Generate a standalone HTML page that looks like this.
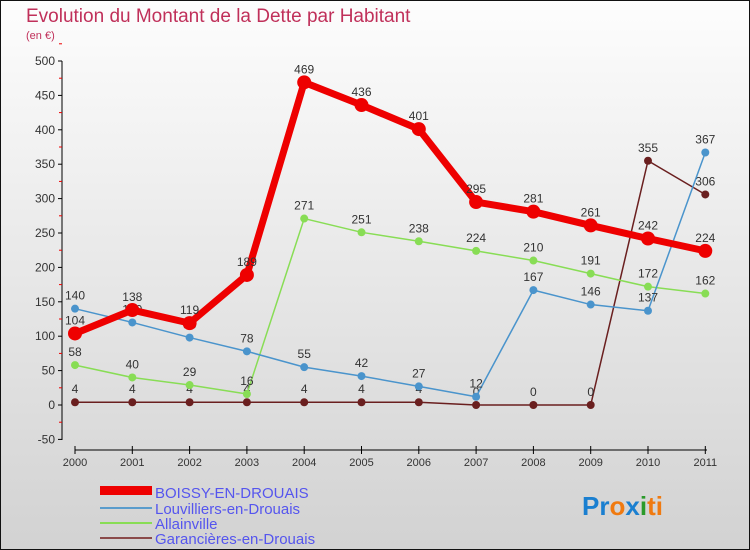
<!DOCTYPE html>
<html><head><meta charset="utf-8"><style>
body{margin:0}
svg{display:block;font-family:"Liberation Sans",sans-serif}
</style></head><body>
<svg width="750" height="550">
<defs><linearGradient id="bg" x1="0" y1="0" x2="0" y2="1"><stop offset="0" stop-color="#fdfdfd"/><stop offset="1" stop-color="#d2d2d2"/></linearGradient></defs>
<rect x="0.5" y="0.5" width="749" height="549" fill="url(#bg)" stroke="#111"/>
<text x="26" y="22" font-size="19" fill="#c0305a">Evolution du Montant de la Dette par Habitant</text>
<text x="26" y="39" font-size="11" fill="#c0305a">(en €)</text>
<g id="axes"></g><g id="series"></g>
<g>
<rect x="100" y="486" width="52" height="9" fill="#e00"/>
<text x="155" y="498" font-size="15" fill="#5555ee">BOISSY-EN-DROUAIS</text>
<line x1="100" y1="508" x2="152" y2="508" stroke="#5a9ccc" stroke-width="2"/>
<text x="155" y="514" font-size="15" fill="#5555ee">Louvilliers-en-Drouais</text>
<line x1="100" y1="523" x2="152" y2="523" stroke="#88dd55" stroke-width="2"/>
<text x="155" y="529" font-size="15" fill="#5555ee">Allainville</text>
<line x1="100" y1="538" x2="152" y2="538" stroke="#8a4a4a" stroke-width="2"/>
<text x="155" y="544" font-size="15" fill="#5555ee">Garancières-en-Drouais</text>
</g>
<text x="582" y="515" font-size="26" font-weight="bold"><tspan fill="#1a7fd0">Pr</tspan><tspan fill="#f07a10">o</tspan><tspan fill="#1a7fd0">x</tspan><tspan fill="#2a9a2a">i</tspan><tspan fill="#f07a10">ti</tspan></text>
</svg>
<script>
const years=[2000,2001,2002,2003,2004,2005,2006,2007,2008,2009,2010,2011];
const yTicks=[-50,0,50,100,150,200,250,300,350,400,450,500];
const boissy=[104,138,119,189,469,436,401,295,281,261,242,224];
const louvilliers=[140,120,98,78,55,42,27,12,167,146,137,367];
const allainville=[58,40,29,16,271,251,238,224,210,191,172,162];
const garancieres=[4,4,4,4,4,4,4,0,0,0,355,306];
const NS='http://www.w3.org/2000/svg';
function X(i){return 75+i*57.3;}
function Y(v){return 405-v*0.688;}
function mk(t,a,p){const e=document.createElementNS(NS,t);for(const k in a)e.setAttribute(k,a[k]);p.appendChild(e);return e;}
const ax=document.getElementById('axes');
mk('line',{x1:62,y1:61,x2:62,y2:440,stroke:'#000'},ax);
mk('line',{x1:75,y1:450,x2:707,y2:450,stroke:'#000'},ax);
yTicks.forEach(v=>{
 mk('line',{x1:58,y1:Y(v),x2:62,y2:Y(v),stroke:'#000'},ax);
 mk('line',{x1:59,y1:Y(v+25),x2:62,y2:Y(v+25),stroke:'#e00'},ax);
 const t=mk('text',{x:55,y:Y(v)+4,'font-size':12,'text-anchor':'end',fill:'#333'},ax);t.textContent=v;
 
 
});
years.forEach((y,i)=>{
 mk('line',{x1:X(i),y1:446,x2:X(i),y2:454,stroke:'#000'},ax);
 const t=mk('text',{x:X(i),y:466,'font-size':11,'text-anchor':'middle',fill:'#333'},ax);t.textContent=y;
 
 
});
const sg=document.getElementById('series');
function draw(data,color,w,r,name){
 const g=mk('g',{},sg);
 
 
 mk('polyline',{points:data.map((v,i)=>X(i)+','+Y(v)).join(' '),fill:'none',stroke:color,'stroke-width':w,'stroke-linejoin':'round'},g);
 data.forEach((v,i)=>{
  const c=mk('circle',{cx:X(i),cy:Y(v),r:r,fill:color},g);
  
  
  const t=mk('text',{x:X(i),y:Y(v)-9,'font-size':12,'text-anchor':'middle',fill:'#333'},g);t.textContent=v;
  
  
 });
}
draw(garancieres,'#6a1f1f',1.5,4,'series-garancieres');
draw(allainville,'#88dd55',1.5,4,'series-allainville');
draw(louvilliers,'#4a94cc',1.5,4,'series-louvilliers');
draw(boissy,'#ee0000',7,7,'series-boissy');
</script>
</body></html>
